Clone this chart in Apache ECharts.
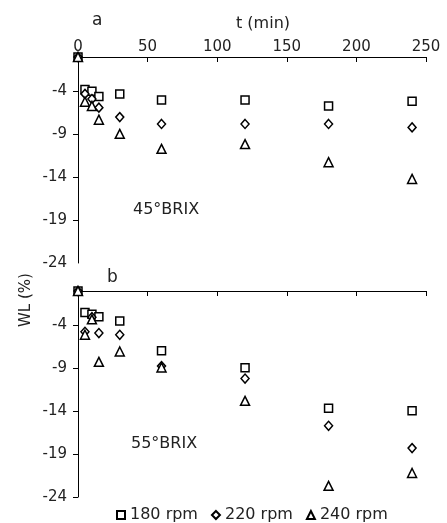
<!DOCTYPE html>
<html><head><meta charset="utf-8">
<script src="https://cdn.jsdelivr.net/npm/echarts@6/dist/echarts.min.js"></script>
<style>html,body{margin:0;padding:0;background:#fff}#c{width:447px;height:523px}</style>
</head><body><div id="c"></div>
<script>
var times = [0, 5, 10, 15, 30, 60, 120, 180, 240];
var xTicks = [0, 50, 100, 150, 200, 250];
var yTicks = [-24, -19, -14, -9, -4];
var seriesNames = ['180 rpm', '220 rpm', '240 rpm'];
// Panel a: 45 °BRIX
var a180 = [0, -3.8, -4.0, -4.6, -4.3, -5.0, -5.0, -5.7, -5.15];
var a220 = [0, -4.3, -4.9, -5.9, -7.0, -7.8, -7.8, -7.8, -8.2];
var a240 = [0, -5.2, -5.7, -7.3, -8.95, -10.7, -10.15, -12.25, -14.2];
// Panel b: 55 °BRIX
var b180 = [0, -2.5, -2.7, -3.0, -3.5, -6.95, -8.95, -13.65, -13.95];
var b220 = [0, -4.75, -3.05, -4.9, -5.1, -8.75, -10.2, -15.7, -18.3];
var b240 = [0, -5.1, -3.3, -8.25, -7.05, -8.9, -12.8, -22.7, -21.2];

var FONT = 'DejaVu Sans';
var TXT = '#222';
function pairs(vals) { return times.map(function (t, i) { return [t, vals[i]]; }); }
var symbols = ['rect', 'diamond', 'triangle'];
var sizes = [8, [8, 9], [9, 9]];

function xAxis(gi, showLabels) {
  return {
    type: 'value', gridIndex: gi, position: 'top', min: 0, max: 250, interval: 50,
    axisLine: { show: true, onZero: false, lineStyle: { color: '#000', width: 1 } },
    axisTick: { show: true, inside: true, length: 5, lineStyle: { color: '#000' } },
    axisLabel: { show: showLabels, margin: 2, fontFamily: FONT, fontSize: 15, color: TXT },
    splitLine: { show: false }
  };
}
function yAxis(gi, tickVals) {
  return {
    type: 'value', gridIndex: gi, min: -24, max: 0,
    axisLine: { show: true, onZero: false, lineStyle: { color: '#000', width: 1 } },
    axisTick: { show: true, length: 5, customValues: tickVals, lineStyle: { color: '#000' } },
    axisLabel: { show: true, margin: 11, customValues: yTicks, fontFamily: FONT, fontSize: 15, color: TXT },
    splitLine: { show: false }
  };
}
function mk(name, idx, data, gi) {
  return {
    type: 'scatter', name: name, xAxisIndex: gi, yAxisIndex: gi,
    symbol: symbols[idx], symbolSize: sizes[idx], data: pairs(data),
    itemStyle: { color: '#fff', borderColor: '#000', borderWidth: 1.5, opacity: 1 },
    emphasis: { disabled: true }, silent: true
  };
}

var chart = echarts.init(document.getElementById('c'), null, { renderer: 'canvas' });
chart.setOption({
  animation: false,
  backgroundColor: '#fff',
  grid: [
    { left: 78, top: 57, width: 348, height: 206 },
    { left: 78, top: 291, width: 348, height: 206 }
  ],
  xAxis: [xAxis(0, true), xAxis(1, false)],
  yAxis: [yAxis(0, yTicks.slice(1)), yAxis(1, yTicks)],
  legend: {
    left: 111, top: 502, itemWidth: 8, itemHeight: 8, itemGap: 13,
    data: seriesNames,
    textStyle: { fontFamily: FONT, fontSize: 16, color: TXT }
  },
  series: [
    mk(seriesNames[0], 0, a180, 0), mk(seriesNames[1], 1, a220, 0), mk(seriesNames[2], 2, a240, 0),
    mk(seriesNames[0], 0, b180, 1), mk(seriesNames[1], 1, b220, 1), mk(seriesNames[2], 2, b240, 1)
  ],
  graphic: [
    { type: 'text', left: 92, top: 12, style: { text: 'a', font: '17px "DejaVu Sans"', fill: TXT } },
    { type: 'text', left: 236, top: 16, style: { text: 't (min)', font: '16px "DejaVu Sans"', fill: TXT } },
    { type: 'text', left: 107, top: 269, style: { text: 'b', font: '17px "DejaVu Sans"', fill: TXT } },
    { type: 'text', left: 133, top: 202, style: { text: '45°BRIX', font: '16px "DejaVu Sans"', fill: TXT } },
    { type: 'text', left: 131, top: 436, style: { text: '55°BRIX', font: '16px "DejaVu Sans"', fill: TXT } },
    { type: 'text', x: 26, y: 300, rotation: Math.PI / 2,
      style: { text: 'WL (%)', font: '15px "DejaVu Sans"', fill: TXT, textAlign: 'center', textVerticalAlign: 'middle' } }
  ]
});
</script></body></html>
